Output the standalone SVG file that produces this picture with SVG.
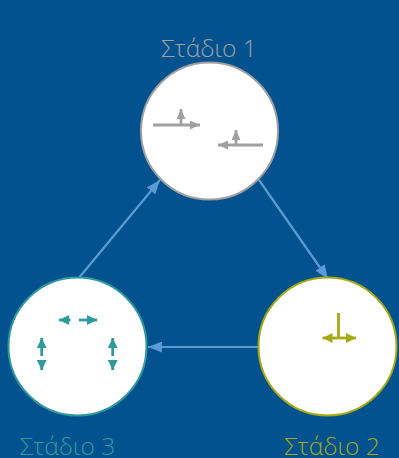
<svg xmlns="http://www.w3.org/2000/svg" width="399" height="458" viewBox="0 0 399 458">
<style>
.lbl{font-family:"Open Sans","Noto Sans",sans-serif;font-size:24.5px;font-weight:300;text-anchor:middle}
.conn{stroke:#5B9BD5;stroke-width:2.2;fill:none}
.g{stroke:#A0A0A0;stroke-width:2.8;fill:none}
.t{stroke:#2E9A9A;stroke-width:2.8;fill:none}
.o{stroke:#A5AA12;stroke-width:2.8;fill:none}
</style>
<defs>
<marker id="ah" viewBox="0 0 14 11" refX="14" refY="5.5" markerWidth="14" markerHeight="11" markerUnits="userSpaceOnUse" orient="auto"><path d="M0,0 L14,5.5 L0,11 z" fill="#5B9BD5"/></marker>
<marker id="hg" viewBox="0 0 10 9" refX="10" refY="4.5" markerWidth="10" markerHeight="9" markerUnits="userSpaceOnUse" orient="auto"><path d="M0,0 L10,4.5 L0,9 z" fill="#A0A0A0"/></marker>
<marker id="ht" viewBox="0 0 10 10" refX="10" refY="5" markerWidth="10" markerHeight="10" markerUnits="userSpaceOnUse" orient="auto"><path d="M0,0 L10,5 L0,10 z" fill="#2E9A9A"/></marker>
<marker id="ho" viewBox="0 0 10 10" refX="10" refY="5" markerWidth="10" markerHeight="10" markerUnits="userSpaceOnUse" orient="auto"><path d="M0,0 L10,5 L0,10 z" fill="#A5AA12"/></marker>
</defs>
<rect width="399" height="458" fill="#02528F"/>
<g id="connectors">
<line class="conn" x1="78" y1="279" x2="160" y2="180" marker-end="url(#ah)"/>
<line class="conn" x1="259" y1="180" x2="328" y2="279" marker-end="url(#ah)"/>
<line class="conn" x1="258" y1="347" x2="148" y2="347" marker-end="url(#ah)"/>
</g>
<g id="stage1">
<circle cx="209.5" cy="131" r="68.5" fill="#fff" stroke="#A0A0A0" stroke-width="2"/>
<text class="lbl" x="209" y="57" fill="#A0A0A0">Στάδιο 1</text>
<line class="g" x1="153" y1="125" x2="200" y2="125" marker-end="url(#hg)"/>
<line class="g" x1="181" y1="125" x2="181" y2="109" marker-end="url(#hg)"/>
<line class="g" x1="263" y1="145" x2="218" y2="145" marker-end="url(#hg)"/>
<line class="g" x1="236" y1="145" x2="236" y2="130" marker-end="url(#hg)"/>
</g>
<g id="stage2">
<circle cx="327.5" cy="346.5" r="69" fill="#fff" stroke="#A5AA12" stroke-width="2"/>
<text class="lbl" x="332" y="455" fill="#A5AA12">Στάδιο 2</text>
<line class="o" x1="338.5" y1="313" x2="338.5" y2="338"/>
<line class="o" x1="338.5" y1="338" x2="322.5" y2="338" marker-end="url(#ho)"/>
<line class="o" x1="338.5" y1="338" x2="356" y2="338" marker-end="url(#ho)"/>
</g>
<g id="stage3">
<circle cx="77.5" cy="346.5" r="69" fill="#fff" stroke="#2E9A9A" stroke-width="2"/>
<text class="lbl" x="67.5" y="455" fill="#2E9A9A">Στάδιο 3</text>
<line class="t" x1="70.5" y1="320" x2="59" y2="320" marker-end="url(#ht)"/>
<line class="t" x1="79" y1="320" x2="97" y2="320" marker-end="url(#ht)"/>
<line class="t" x1="41.7" y1="356" x2="41.7" y2="338" marker-end="url(#ht)"/>
<line class="t" x1="41.7" y1="360" x2="41.7" y2="370" marker-end="url(#ht)"/>
<line class="t" x1="112.7" y1="356" x2="112.7" y2="338" marker-end="url(#ht)"/>
<line class="t" x1="112.7" y1="360" x2="112.7" y2="370" marker-end="url(#ht)"/>
</g>
</svg>
